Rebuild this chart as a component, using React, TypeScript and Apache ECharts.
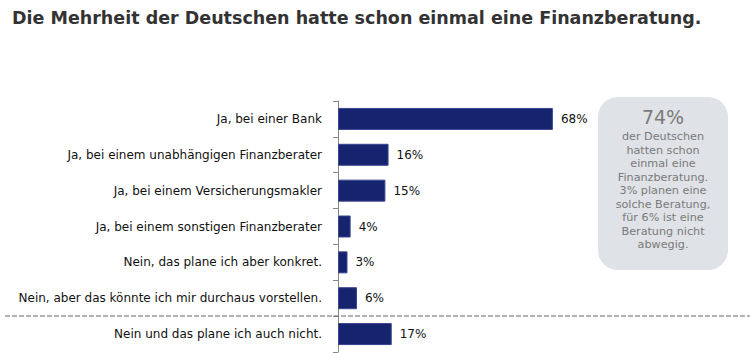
import React, { useEffect, useRef } from "react";
import * as echarts from "echarts";

const categories = [
  "Ja, bei einer Bank",
  "Ja, bei einem unabhängigen Finanzberater",
  "Ja, bei einem Versicherungsmakler",
  "Ja, bei einem sonstigen Finanzberater",
  "Nein, das plane ich aber konkret.",
  "Nein, aber das könnte ich mir durchaus vorstellen.",
  "Nein und das plane ich auch nicht.",
];
const values = [68, 16, 15, 4, 3, 6, 17];
const title = "Die Mehrheit der Deutschen hatte schon einmal eine Finanzberatung.";
const calloutHead = "74%";
const calloutLines = [
  "der Deutschen",
  "hatten schon",
  "einmal eine",
  "Finanzberatung.",
  "3% planen eine",
  "solche Beratung,",
  "für 6% ist eine",
  "Beratung nicht",
  "abwegig.",
];

export default function App() {
  const ref = useRef<HTMLDivElement>(null);
  useEffect(() => {
    if (!ref.current) return;
    const chart = echarts.init(ref.current, null, { renderer: "svg" });
    const font = "'DejaVu Sans', Verdana, sans-serif";
    chart.setOption({
      animation: false,
      backgroundColor: "#ffffff",
      textStyle: { fontFamily: font },
      title: {
        text: title,
        left: 7,
        top: 4,
        textStyle: { fontSize: 17.5, fontWeight: "bold", color: "#333333", fontFamily: font },
      },
      grid: { left: 338, top: 101, width: 316, height: 251, containLabel: false },
      xAxis: { type: "value", min: 0, max: 100, show: false },
      yAxis: {
        type: "category",
        inverse: true,
        data: categories,
        axisLine: { show: true, lineStyle: { color: "#888888", width: 1 } },
        axisTick: { show: true, length: 5, lineStyle: { color: "#888888" } },
        axisLabel: { color: "#111111", fontSize: 12, margin: 16, fontFamily: font },
      },
      series: [
        {
          type: "bar",
          data: values,
          barWidth: 22,
          itemStyle: { color: "#16236e", borderColor: "#3a4590", borderWidth: 1 },
          label: {
            show: true,
            position: "right",
            distance: 8,
            formatter: "{c}%",
            color: "#111111",
            fontSize: 12,
            fontFamily: font,
          },
        },
      ],
      graphic: [
        {
          type: "line",
          shape: { x1: 5, y1: 316, x2: 750, y2: 316 },
          style: { stroke: "#666666", lineWidth: 1, lineDash: [5, 2] },
          z: 10,
        },
        {
          type: "rect",
          shape: { x: 598, y: 97, width: 130, height: 173, r: 20 },
          style: { fill: "#dfe2e6" },
        },
        {
          type: "text",
          x: 663,
          y: 117,
          style: {
            text: calloutHead,
            align: "center",
            verticalAlign: "middle",
            fill: "#7a7a7a",
            fontSize: 19,
            fontFamily: font,
          },
        },
        {
          type: "text",
          x: 663,
          y: 130,
          style: {
            text: calloutLines.join("\n"),
            align: "center",
            verticalAlign: "top",
            lineHeight: 13.5,
            fill: "#7a7a7a",
            fontSize: 11.2,
            fontFamily: font,
          },
        },
      ],
    });
    return () => chart.dispose();
  }, []);
  return (
    <div
      ref={ref}
      style={{ position: "fixed", left: 0, top: 0, width: 750, height: 353 }}
    />
  );
}
